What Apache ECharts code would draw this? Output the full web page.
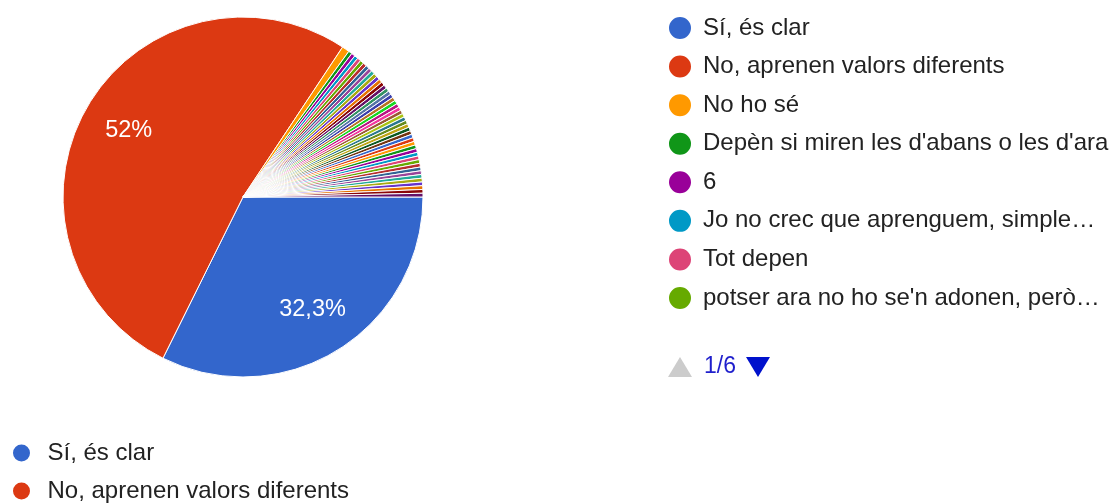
<!DOCTYPE html>
<html>
<head>
<meta charset="utf-8">
<style>
  html, body { margin: 0; padding: 0; background: #fff; }
  #chart { width: 1112px; height: 503px; }
</style>
<script src="https://cdn.jsdelivr.net/npm/echarts@6/dist/echarts.min.js"></script>
</head>
<body>
<div id="chart"></div>
<script>
// Answers (legend labels) in survey order
const categories = [
  'Sí, és clar',
  'No, aprenen valors diferents',
  'No ho sé',
  "Depèn si miren les d'abans o les d'ara",
  '6',
  'Jo no crec que aprenguem, simple…',
  'Tot depen',
  "potser ara no ho se'n adonen, però…",
  'Resposta 9', 'Resposta 10', 'Resposta 11', 'Resposta 12',
  'Resposta 13', 'Resposta 14', 'Resposta 15', 'Resposta 16',
  'Resposta 17', 'Resposta 18', 'Resposta 19', 'Resposta 20',
  'Resposta 21', 'Resposta 22', 'Resposta 23', 'Resposta 24',
  'Resposta 25', 'Resposta 26', 'Resposta 27', 'Resposta 28',
  'Resposta 29', 'Resposta 30', 'Resposta 31', 'Resposta 32',
  'Resposta 33', 'Resposta 34', 'Resposta 35', 'Resposta 36',
  'Resposta 37', 'Resposta 38', 'Resposta 39', 'Resposta 40',
  'Resposta 41', 'Resposta 42', 'Resposta 43', 'Resposta 44',
  'Resposta 45', 'Resposta 46', 'Resposta 47', 'Resposta 48'
];

// Number of responses per answer
const responses = [
  97, 156, 2, 1, 1, 1, 1, 1,
  1, 1, 1, 1, 1, 1, 1, 1,
  1, 1, 1, 1, 1, 1, 1, 1,
  1, 1, 1, 1, 1, 1, 1, 1,
  1, 1, 1, 1, 1, 1, 1, 1,
  1, 1, 1, 1, 1, 1, 1, 1
];

// Slice palette
const palette = [
  '#3366cc', '#dc3912', '#ff9900', '#109618', '#990099', '#0099c6', '#dd4477',
  '#66aa00', '#b82e2e', '#316395', '#994499', '#22aa99', '#aaaa11', '#6633cc',
  '#e67300', '#8b0707', '#651067', '#329262', '#5574a6', '#3b3eac', '#b77322',
  '#16d620', '#b91383', '#f4359e', '#9c5935', '#a9c413', '#2a778d', '#668d1c',
  '#bea413', '#0c5922', '#743411'
];

const itemsPerPage = 8;
const pageCount = Math.ceil(categories.length / itemsPerPage);

const FONT = "'Liberation Sans', Arial, sans-serif";
const CENTER = [243, 197];
const RADIUS = 180;

const pieData = categories.map((name, i) => ({
  name: name,
  value: responses[i],
  itemStyle: { color: palette[i % palette.length] }
}));

// Catalan percentage: one decimal, comma separator, trailing ",0" dropped
function pct(p) {
  let s = (Math.round(p * 10) / 10).toFixed(1);
  if (s.endsWith('.0')) s = s.slice(0, -2);
  return s.replace('.', ',') + '%';
}

const chart = echarts.init(document.getElementById('chart'), null, { renderer: 'canvas' });

chart.setOption({
  backgroundColor: '#ffffff',
  animation: false,
  color: palette,
  legend: [
    {
      type: 'plain',
      orient: 'vertical',
      left: 662,
      top: 10,
      height: 400,
      icon: 'circle',
      itemWidth: 36,
      itemHeight: 24,
      itemGap: 12.57,
      data: categories.slice(0, itemsPerPage),
      selectedMode: false,
      textStyle: { fontFamily: FONT, fontSize: 24, color: '#222222' }
    },
    {
      type: 'plain',
      orient: 'vertical',
      left: 6,
      top: 436,
      height: 200,
      icon: 'circle',
      itemWidth: 42,
      itemHeight: 19,
      itemGap: 14,
      data: categories.slice(0, 2),
      selectedMode: false,
      textStyle: { fontFamily: FONT, fontSize: 24, color: '#222222' }
    }
  ],
  graphic: [
    {
      type: 'polygon',
      shape: { points: [[668, 377], [692, 377], [680, 357]] },
      style: { fill: '#cccccc' }
    },
    {
      type: 'text',
      x: 704,
      y: 367,
      style: {
        text: '1/' + pageCount,
        fill: '#1f1fcc',
        font: '23px ' + FONT,
        verticalAlign: 'middle',
        align: 'left'
      }
    },
    {
      type: 'polygon',
      shape: { points: [[746, 357], [770, 357], [758, 377]] },
      style: { fill: '#0011cc' }
    }
  ],
  series: [
    {
      name: 'slices',
      type: 'pie',
      center: CENTER,
      radius: [0, RADIUS],
      startAngle: 0,
      clockwise: true,
      avoidLabelOverlap: false,
      silent: true,
      label: { show: false },
      labelLine: { show: false },
      itemStyle: { borderColor: '#ffffff', borderWidth: 1 },
      emphasis: { disabled: true },
      data: pieData
    },
    {
      // transparent twin that places the percentage labels at ~0.72 of the radius
      name: 'labels',
      type: 'pie',
      center: CENTER,
      radius: [0, RADIUS * 1.433],
      startAngle: 0,
      clockwise: true,
      avoidLabelOverlap: false,
      silent: true,
      z: 3,
      itemStyle: { color: 'rgba(0,0,0,0)', borderWidth: 0 },
      emphasis: { disabled: true },
      labelLine: { show: false },
      label: {
        show: true,
        position: 'inside',
        color: '#ffffff',
        fontFamily: FONT,
        fontSize: 23.5,
        textBorderWidth: 0,
        textShadowBlur: 0,
        formatter: (p) => (p.percent >= 5 ? pct(p.percent) : '')
      },
      data: categories.map((name, i) => ({ name: name, value: responses[i] }))
    }
  ]
});
</script>
</body>
</html>
